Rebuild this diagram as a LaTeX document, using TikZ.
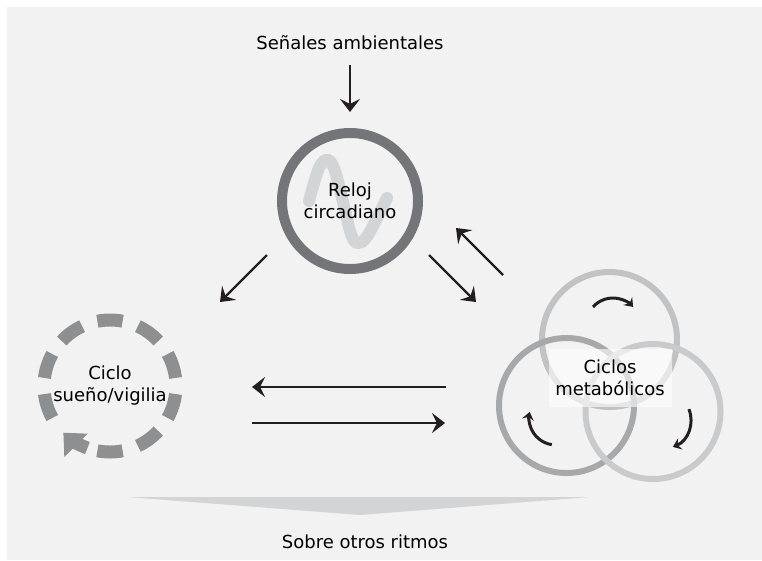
\documentclass[tikz,border=0pt]{standalone}
\usepackage{fontspec}
\setmainfont{DejaVu Sans}
\usetikzlibrary{arrows.meta}
\definecolor{fondo}{HTML}{F2F2F2}
\definecolor{relojgris}{HTML}{747578}
\definecolor{ondagris}{HTML}{D3D4D5}
\definecolor{suenogris}{HTML}{8E8F91}
\definecolor{metA}{HTML}{C1C2C4}
\definecolor{metB}{HTML}{A7A8AA}
\definecolor{metC}{HTML}{C9CACC}
\definecolor{negro}{HTML}{231F20}
\tikzset{
  txt/.style={font=\fontsize{18}{22}\selectfont, align=center, inner sep=0pt},
  anillo/.style={circle, draw=relojgris, line width=10pt, minimum size=136pt, inner sep=0pt},
  trazo/.style={draw=suenogris, line width=13pt},
  flecha/.style={line width=2.2pt, draw=negro, -{Stealth[length=13pt,width=20pt,inset=5pt]}},
  flechita/.style={line width=3pt, draw=negro, -{Stealth[length=8pt,width=12pt,inset=3pt]}},
  metcirc/.style={line width=6pt}
}
\begin{document}
\begin{tikzpicture}[x=10pt,y=10pt]
	\useasboundingbox (0,0) rectangle (76.2,-56);
	\fill[fondo] (0.7,-0.7) rectangle (76.2,-56);
	% reloj
	\draw[ondagris, line width=12pt, line cap=round] plot[smooth, tension=.6]
		coordinates {(30.9,-20.1) (31.9,-16.8) (32.8,-16.0) (33.5,-17.1) (34.3,-20.2) (35.1,-23.4) (35.8,-24.3) (36.8,-23.5) (38.7,-19.8)};
	\node[anillo, txt] (reloj) at (35,-20.1) {Reloj\\circadiano};
	\node[txt] (senales) at (35,-4.3) {Señales ambientales};
	\draw[flecha, shorten <=15pt, shorten >=16pt] (senales) -- (reloj);
	% ciclo sueno/vigilia
	\node[txt] (ciclo) at (11,-38.6) {Ciclo\\sueño/vigilia};
	\foreach \a in {90,54,18,-18,-54,-90,-162,162,126}
		\draw[trazo] (ciclo.center) ++({\a+11}:6.6) arc ({\a+11}:{\a-11}:6.6);
	\draw[trazo, -{Triangle[length=18pt,width=32pt]}] (ciclo.center) ++(-110:6.6) arc (-110:-135:6.6);
	% ciclos metabolicos
	\draw[metcirc, metA] (60.95,-33.95) circle (6.75);
	\draw[metcirc, metB] (56.65,-40.55) circle (6.75);
	\draw[metcirc, metC] (65.3,-41.15) circle (6.75);
	\node[txt, fill=white, fill opacity=.6, text opacity=1, minimum width=123pt, minimum height=58pt] (metab) at (61,-37.8) {Ciclos\\metabólicos};
	\draw[flechita] (61.3,-32.5) ++(138:2.7) arc (138:42:2.7);
	\draw[flechita] (55.6,-41.8) ++(261:2.7) arc (261:167:2.7);
	\draw[flechita] (66.2,-42) ++(22:2.9) arc (22:-68:2.9);
	% flechas
	\coordinate (rc1) at (26.7,-25.5);
	\coordinate (rc2) at (22,-30.2);
	\coordinate (rm1) at (42.9,-25.5);
	\coordinate (rm2) at (47.6,-30.2);
	\coordinate (mr1) at (50.3,-27.5);
	\coordinate (mr2) at (45.6,-22.8);
	\coordinate (mc1) at (44.6,-38.7);
	\coordinate (mc2) at (25.2,-38.7);
	\coordinate (cm1) at (25.2,-42.3);
	\coordinate (cm2) at (44.5,-42.3);
	\draw[flecha] (rc1) -- (rc2);
	\draw[flecha] (rm1) -- (rm2);
	\draw[flecha] (mr1) -- (mr2);
	\draw[flecha] (mc1) -- (mc2);
	\draw[flecha] (cm1) -- (cm2);
	% otros ritmos
	\fill[ondagris] (12.7,-49.7) -- (59,-49.7) -- (36,-51.5) -- cycle;
	\node[txt] (otros) at (36.5,-54.2) {Sobre otros ritmos};
\end{tikzpicture}
\end{document}
